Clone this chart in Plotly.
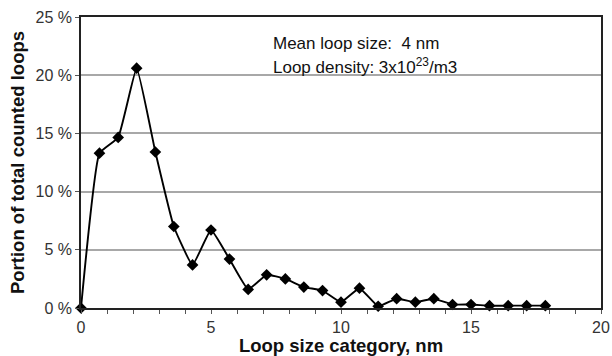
import plotly.graph_objects as go

# Loop size categories (nm) and portion of counted loops (%)
loop_size_nm = [0.00, 0.71, 1.43, 2.14, 2.86, 3.57, 4.29, 5.00, 5.71, 6.43,
                7.14, 7.86, 8.57, 9.29, 10.00, 10.71, 11.43, 12.14, 12.86, 13.57,
                14.29, 15.00, 15.71, 16.43, 17.14, 17.86]
portion_pct = [0.0, 13.3, 14.65, 20.6, 13.4, 7.0, 3.7, 6.7, 4.2, 1.6,
               2.85, 2.5, 1.8, 1.5, 0.5, 1.7, 0.15, 0.8, 0.5, 0.8,
               0.3, 0.3, 0.2, 0.2, 0.2, 0.2]

y_ticks = [0, 5, 10, 15, 20, 25]
y_tick_text = ["0 %", "5 %", "10 %", "15 %", "20 %", "25 %"]

font_family = "Liberation Sans, Arial, sans-serif"

L, R, T, B = 81, 11, 17, 48
W, H = 612, 356

fig = go.Figure()
fig.add_trace(go.Scatter(
    x=loop_size_nm, y=portion_pct, mode="lines+markers",
    line=dict(color="black", width=1.9, shape="spline", smoothing=0.35),
    marker=dict(symbol="diamond", size=9, color="black"),
    showlegend=False, cliponaxis=False,
))

fig.update_layout(
    width=W, height=H,
    margin=dict(l=L, r=R, t=T, b=B, autoexpand=False),
    paper_bgcolor="white", plot_bgcolor="white",
    font=dict(family=font_family, size=16, color="#333"),
    xaxis=dict(
        range=[0, 20], tickmode="linear", tick0=0, dtick=5,
        ticks="outside", ticklen=4, tickcolor="#555", tickwidth=1,
        minor=dict(dtick=1, ticks="outside", ticklen=4, tickcolor="#555", tickwidth=1, showgrid=False),
        showline=True, linecolor="#222", linewidth=1.5, mirror=True,
        showgrid=False, zeroline=False, automargin=False,
        tickfont=dict(size=16),
        title=dict(text="<b>Loop size category, nm</b>", font=dict(size=18.5, color="#111"), standoff=2),
    ),
    yaxis=dict(
        range=[0, 25], tickmode="array", tickvals=y_ticks, ticktext=y_tick_text,
        ticks="outside", ticklen=4, tickcolor="#555", tickwidth=1,
        showline=True, linecolor="#222", linewidth=1.5, mirror=True,
        showgrid=True, gridcolor="#a8a8a8", gridwidth=1.5, zeroline=False,
        automargin=False,
        tickfont=dict(size=16),
        title=dict(text="<b>Portion of total counted loops</b>", font=dict(size=18.5, color="#111"), standoff=6),
    ),
)

pw = W - L - R
ph = H - T - B
def px_to_paper(xp, yp):
    return (xp - L) / pw, 1 - (yp - T) / ph

ax, ay = px_to_paper(271, 43)
fig.add_annotation(x=ax, y=ay, xref="paper", yref="paper", text="Mean loop size:  4 nm",
                   showarrow=False, xanchor="left", yanchor="middle", font=dict(size=17, color="#111"))
ax, ay = px_to_paper(271, 66)
fig.add_annotation(x=ax, y=ay, xref="paper", yref="paper", text="Loop density: 3x10<sup>23</sup>/m3",
                   showarrow=False, xanchor="left", yanchor="middle", font=dict(size=17, color="#111"))

fig.write_html("out.html", config={"displayModeBar": False},
               post_script="document.body.style.margin='0';document.body.style.padding='0';document.body.style.overflow='hidden';")
